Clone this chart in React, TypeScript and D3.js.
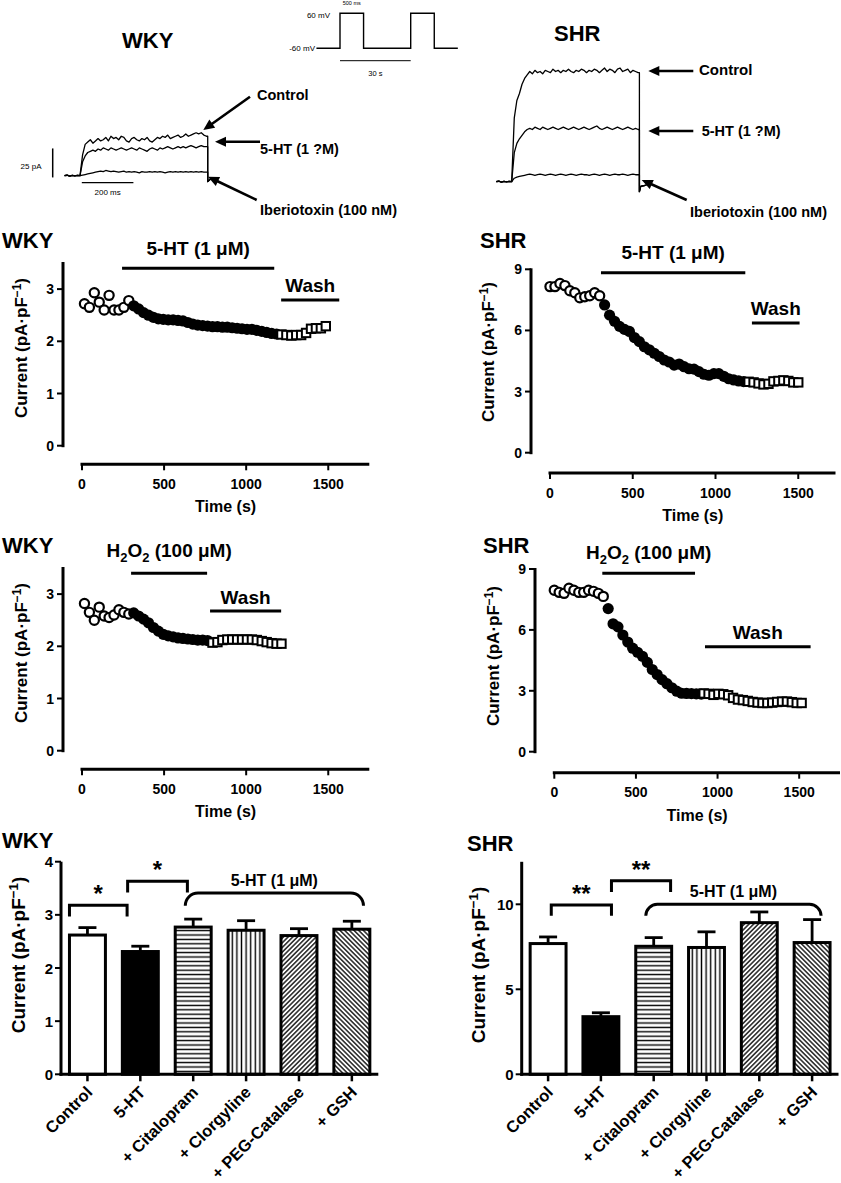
import React from 'react';
import * as d3 from 'd3';

const FONT = '"Liberation Sans", Arial, Helvetica, sans-serif';

// ---------------- Top: whole-cell current traces (pA, every 10 ms from step onset) -------------
const TRACE_DT = 10;
const preStepBaseline = [0, 0.4, -0.3, 0.3, -0.2, 0.2, 0]; // -60 .. 0 ms
const wkyTraceControl = [0, 18, 27, 29, 31, 28, 30, 32, 30, 31, 33, 30, 34, 32, 33, 31, 34, 33, 30, 29, 32, 33, 31, 30, 32, 31, 33, 30, 29, 31, 33, 32, 34, 33, 35, 32, 33, 34, 35, 33, 34, 36, 34, 35, 36, 37, 36, 37, 35, 34];
const wkyTrace5HT = [0, 12, 17, 20, 21, 22, 21, 23, 22, 24, 23, 22, 24, 23, 22, 23, 24, 23, 22, 23, 24, 23, 22, 24, 23, 22, 21, 23, 24, 23, 22, 24, 23, 24, 25, 24, 23, 24, 25, 24, 25, 24, 25, 26, 25, 24, 25, 26, 25, 25];
const wkyTraceIbtx = [0, 0.5, 1, 1.5, 2, 2.5, 3, 3.5, 4, 3.5, 4.5, 4, 3.5, 4, 3.5, 3, 3.5, 4, 3, 3.5, 3, 3.5, 3, 2.5, 3.5, 3, 3, 3.5, 3, 3.5, 3, 3.5, 3, 2.5, 3, 3.5, 3, 3.5, 3, 3.5, 3, 3.5, 3, 3.5, 3, 3.5, 3, 3.5, 3, 3];
const shrTraceControl = [0, 55, 70, 76, 84, 89, 92, 95, 93, 96, 94, 95, 93, 96, 95, 94, 97, 95, 96, 94, 96, 95, 97, 95, 94, 96, 95, 97, 96, 94, 96, 95, 97, 96, 94, 96, 98, 95, 97, 96, 94, 97, 98, 95, 96, 97, 94, 96, 95, 94];
const shrTrace5HT = [0, 25, 33, 37, 40, 43, 45, 46, 45, 47, 46, 45, 47, 46, 45, 46, 47, 46, 45, 46, 47, 46, 45, 46, 47, 46, 45, 46, 47, 46, 45, 46, 47, 48, 46, 45, 46, 47, 46, 45, 46, 47, 46, 45, 46, 47, 46, 45, 46, 45];
const shrTraceIbtx = [0, 3, 4, 4.5, 5, 5.5, 6, 6.5, 6, 5.5, 6, 6.5, 6, 5.5, 6, 6.5, 6, 5.5, 6, 6.5, 6, 5.5, 6, 6.5, 6, 5.5, 6, 6.5, 6, 6, 5.5, 6, 6.5, 6, 5.5, 6, 6.5, 6, 5.5, 6, 6.5, 6, 6, 6.5, 6, 5.5, 6, 6.5, 6, 6];
const wkyTail: [number, number][] = [[495, -5], [505, -3], [525, -2.5]];
const shrTail: [number, number][] = [[495, -8.6], [500, -4], [522, -3]];

// Voltage protocol (schematic seconds, mV)
const protocolPoints: [number, number][] = [[-10, -60], [0, -60], [0, 60], [10, 60], [10, -60], [30, -60], [30, 60], [40, 60], [40, -60], [50, -60]];

// ---------------- Time courses (pA/pF, one point every 30 s) ----------------
const SAMPLE_DT = 30;
const wkyHtBaseline = [2.72, 2.65, 2.93, 2.75, 2.60, 2.88, 2.60, 2.60, 2.65, 2.78];
const wkyHtDrug = [2.68, 2.62, 2.55, 2.50, 2.46, 2.43, 2.42, 2.41, 2.41, 2.40, 2.39, 2.36, 2.33, 2.31, 2.30, 2.29, 2.28, 2.28, 2.27, 2.27, 2.26, 2.25, 2.24, 2.23, 2.23, 2.21, 2.19, 2.17, 2.15, 2.14];
const wkyHtWash = [2.13, 2.12, 2.11, 2.12, 2.12, 2.16, 2.24, 2.25, 2.25, 2.29];
const wkyHtPeriods = { drug: [244, 1171], wash: [1213, 1567] };

const shrHtBaseline = [8.15, 8.15, 8.3, 8.2, 7.95, 7.85, 7.6, 7.65, 7.7, 7.85, 7.7];
const shrHtDrug = [7.25, 6.75, 6.45, 6.2, 6.05, 5.95, 5.65, 5.45, 5.2, 5.05, 4.88, 4.72, 4.55, 4.45, 4.3, 4.35, 4.22, 4.12, 4.1, 3.98, 3.85, 3.8, 3.88, 3.88, 3.75, 3.63, 3.57, 3.52, 3.49];
const shrHtWash = [3.48, 3.45, 3.4, 3.35, 3.38, 3.5, 3.52, 3.55, 3.52, 3.45, 3.45];
const shrHtPeriods = { drug: [308, 1180], wash: [1220, 1508] };

const wkyH2o2Baseline = [2.82, 2.65, 2.5, 2.75, 2.58, 2.55, 2.6, 2.7, 2.65, 2.62];
const wkyH2o2Drug = [2.64, 2.58, 2.52, 2.45, 2.36, 2.29, 2.23, 2.2, 2.18, 2.16, 2.15, 2.14, 2.13, 2.12, 2.12, 2.11];
const wkyH2o2Wash = [2.07, 2.08, 2.12, 2.13, 2.13, 2.13, 2.13, 2.13, 2.13, 2.12, 2.1, 2.08, 2.06, 2.05, 2.05];
const wkyH2o2Periods = { drug: [299, 762], wash: [780, 1213] };

const shrH2o2Baseline = [7.95, 7.85, 7.8, 8.05, 7.95, 7.85, 7.85, 7.95, 7.9, 7.8, 7.65];
const shrH2o2Drug = [7.05, 6.3, 6.15, 5.75, 5.4, 5.1, 4.9, 4.7, 4.4, 4.05, 3.8, 3.55, 3.35, 3.15, 2.98, 2.88, 2.87, 2.86, 2.85, 2.84];
const shrH2o2Wash = [2.87, 2.85, 2.8, 2.85, 2.83, 2.78, 2.65, 2.57, 2.54, 2.5, 2.45, 2.42, 2.4, 2.4, 2.42, 2.45, 2.47, 2.47, 2.44, 2.4, 2.4];
const shrH2o2Periods = { drug: [294, 862], wash: [923, 1570] };

const timeTicks = [0, 500, 1000, 1500];
const wkyYTicks = [0, 1, 2, 3];
const shrYTicks = [0, 3, 6, 9];

// ---------------- Bar charts ----------------
const barCategories = ['Control', '5-HT', '+ Citalopram', '+ Clorgyline', '+ PEG-Catalase', '+ GSH'];
const wkyMeans = [2.62, 2.31, 2.77, 2.71, 2.61, 2.73];
const wkyErrs = [0.14, 0.10, 0.15, 0.18, 0.13, 0.15];
const shrMeans = [7.69, 3.39, 7.53, 7.46, 8.92, 7.75];
const shrErrs = [0.39, 0.23, 0.51, 0.92, 0.63, 1.35];
const wkyBarTicks = [0, 1, 2, 3, 4];
const shrBarTicks = [0, 5, 10];
// significance brackets: positions in category-index units, heights in pA/pF
const wkyBrackets = [
  { from: -0.34, to: 0.75, top: 3.18, leg: 2.97, mark: '*' },
  { from: 0.76, to: 1.89, top: 3.63, leg: 3.42, mark: '*' },
];
const wkyBrace = { from: 1.85, to: 5.22, top: 3.41, leg: 3.17, label: '5-HT (1 μM)' };
const shrBrackets = [
  { from: 0.06, to: 1.2, top: 9.96, leg: 9.32, mark: '**' },
  { from: 1.2, to: 2.32, top: 11.38, leg: 10.72, mark: '**' },
];
const shrBrace = { from: 1.85, to: 5.17, top: 10.0, leg: 9.32, label: '5-HT (1 μM)' };

const barFills = ['white', 'black', 'url(#pat-h)', 'url(#pat-v)', 'url(#pat-d1)', 'url(#pat-d2)'];

// ---------------- Components ----------------
function Arrow({ x1, y1, x2, y2 }: { x1: number; y1: number; x2: number; y2: number }) {
  const dx = x2 - x1, dy = y2 - y1, L = Math.hypot(dx, dy), ux = dx / L, uy = dy / L;
  const hl = 11, hw = 5;
  const bx = x2 - ux * hl, by = y2 - uy * hl;
  const pts = `${x2},${y2} ${bx - uy * hw},${by + ux * hw} ${bx + uy * hw},${by - ux * hw}`;
  return (
    <g>
      <line x1={x1} y1={y1} x2={bx + ux * 1} y2={by + uy * 1} stroke="black" strokeWidth={2.6} />
      <polygon points={pts} fill="black" />
    </g>
  );
}

function tracePath(values: number[], tail: [number, number][], x: any, y: any) {
  const pts: [number, number][] = [];
  preStepBaseline.forEach((v, i) => pts.push([(i - preStepBaseline.length + 1) * TRACE_DT, v]));
  values.forEach((v, i) => pts.push([i * TRACE_DT, v]));
  pts.push([495, values[values.length - 1]]);
  tail.forEach((p) => pts.push(p));
  const line = d3.line<[number, number]>().x((d) => x(d[0])).y((d) => y(d[1]));
  return line(pts) as string;
}

function TopTraces() {
  const xW = d3.scaleLinear().domain([0, 500]).range([80, 209]);
  const yW = d3.scaleLinear().domain([0, 25]).range([175.7, 146.7]);
  const xS = d3.scaleLinear().domain([0, 500]).range([511.7, 640.7]);
  const yS = d3.scaleLinear().domain([0, 25]).range([181.7, 152.7]);
  const px = d3.scaleLinear().domain([0, 30]).range([340, 410.7]);
  const py = d3.scaleLinear().domain([-60, 60]).range([48.3, 13.3]);
  const proto = d3.line<[number, number]>().x((d) => px(d[0])).y((d) => py(d[1]))(protocolPoints) as string;
  const trStyle = { fill: 'none', stroke: 'black', strokeWidth: 1.3, strokeLinejoin: 'round' as const };
  return (
    <g>
      <text x={122} y={48} fontSize={22} fontWeight="bold">WKY</text>
      <text x={554} y={41} fontSize={22} fontWeight="bold">SHR</text>
      {/* protocol */}
      <path d={proto} fill="none" stroke="black" strokeWidth={1.4} />
      <text x={px(5)} y={5} fontSize={5.5} textAnchor="middle">500 ms</text>
      <text x={330} y={18} fontSize={8} textAnchor="end">60 mV</text>
      <text x={315} y={51} fontSize={8} textAnchor="end">-60 mV</text>
      <line x1={px(0)} x2={px(30)} y1={60.7} y2={60.7} stroke="black" strokeWidth={1} />
      <text x={px(15)} y={76} fontSize={7.5} textAnchor="middle">30 s</text>
      {/* WKY traces */}
      <path d={tracePath(wkyTraceControl, wkyTail, xW, yW)} {...trStyle} />
      <path d={tracePath(wkyTrace5HT, wkyTail, xW, yW)} {...trStyle} />
      <path d={tracePath(wkyTraceIbtx, wkyTail, xW, yW)} {...trStyle} />
      <line x1={52.7} x2={52.7} y1={yW(23.5)} y2={yW(-1.5)} stroke="black" strokeWidth={1.5} />
      <text x={41.5} y={168.5} fontSize={8} textAnchor="end">25 pA</text>
      <line x1={xW(7)} x2={xW(207)} y1={yW(-6)} y2={yW(-6)} stroke="black" strokeWidth={1.2} />
      <text x={xW(107)} y={194.5} fontSize={8} textAnchor="middle">200 ms</text>
      <Arrow x1={250} y1={96.7} x2={203.3} y2={130} />
      <Arrow x1={260} y1={141.7} x2={215} y2={141.7} />
      <Arrow x1={256.7} y1={200} x2={208} y2={176.7} />
      <text x={257} y={100} fontSize={14.5} fontWeight="bold">Control</text>
      <text x={260} y={153.5} fontSize={14.5} fontWeight="bold">5-HT (1 ?M)</text>
      <text x={260} y={215} fontSize={14.5} fontWeight="bold">Iberiotoxin (100 nM)</text>
      {/* SHR traces */}
      <path d={tracePath(shrTraceControl, shrTail, xS, yS)} {...trStyle} />
      <path d={tracePath(shrTrace5HT, shrTail, xS, yS)} {...trStyle} />
      <path d={tracePath(shrTraceIbtx, shrTail, xS, yS)} {...trStyle} />
      <Arrow x1={693.3} y1={71} x2={648.3} y2={71} />
      <Arrow x1={693.3} y1={131} x2={648.3} y2={131} />
      <Arrow x1={686.7} y1={200} x2={641.7} y2={180} />
      <text x={699} y={75} fontSize={15} fontWeight="bold">Control</text>
      <text x={701.7} y={136} fontSize={14.5} fontWeight="bold">5-HT (1 ?M)</text>
      <text x={690} y={217} fontSize={14.5} fontWeight="bold">Iberiotoxin (100 nM)</text>
    </g>
  );
}

function YLabel({ x, y, size }: { x: number; y: number; size: number }) {
  return (
    <text transform={`translate(${x},${y}) rotate(-90)`} textAnchor="middle" fontSize={size} fontWeight="bold">
      Current (pA·pF<tspan dy={-size * 0.38} fontSize={size * 0.7}>−1</tspan><tspan dy={size * 0.38}>)</tspan>
    </text>
  );
}

type Series = { t0: number; values: number[] };

function TimeCourse({ L, base, drug, wash, periods, drugLabel, yTicks }: any) {
  const x = d3.scaleLinear().domain([0, L.xMax]).range(L.xRange);
  const y = d3.scaleLinear().domain([0, L.yMax]).range(L.yRange);
  const pts = (s: Series) => s.values.map((v, i) => ({ t: s.t0 + i * SAMPLE_DT, v }));
  return (
    <g>
      <text x={L.titleX} y={L.titleY} fontSize={22} fontWeight="bold">{L.title}</text>
      {/* y axis */}
      <line x1={L.yAxisX} x2={L.yAxisX} y1={y(L.yMax) - 1} y2={y(0) + 1.5} stroke="black" strokeWidth={3} />
      {yTicks.map((t: number) => (
        <g key={t}>
          <line x1={L.yAxisX - 6} x2={L.yAxisX} y1={y(t)} y2={y(t)} stroke="black" strokeWidth={2} />
          <text x={L.yAxisX - 9} y={y(t) + 5} textAnchor="end" fontSize={14} fontWeight="bold">{t}</text>
        </g>
      ))}
      <YLabel x={L.yLabelX} y={L.yLabelY} size={17} />
      {/* x axis */}
      <line x1={x(0) - 1.5} x2={x(L.xMax)} y1={L.axisY} y2={L.axisY} stroke="black" strokeWidth={3} />
      {timeTicks.map((t) => (
        <g key={t}>
          <line x1={x(t)} x2={x(t)} y1={L.axisY} y2={L.axisY + 6} stroke="black" strokeWidth={2} />
          <text x={x(t)} y={L.axisY + 24.5} textAnchor="middle" fontSize={14} fontWeight="bold">{t}</text>
        </g>
      ))}
      <text x={(L.xRange[0] + L.xRange[1]) / 2} y={L.axisY + 48} textAnchor="middle" fontSize={16} fontWeight="bold">Time (s)</text>
      {/* treatment bars */}
      <line x1={x(periods.drug[0])} x2={x(periods.drug[1])} y1={L.drugLineY} y2={L.drugLineY} stroke="black" strokeWidth={3} />
      <text x={(x(periods.drug[0]) + x(periods.drug[1])) / 2} y={L.drugTextY} textAnchor="middle" fontSize={19} fontWeight="bold">{drugLabel}</text>
      <line x1={x(periods.wash[0])} x2={x(periods.wash[1])} y1={L.washLineY} y2={L.washLineY} stroke="black" strokeWidth={3} />
      <text x={(x(periods.wash[0]) + x(periods.wash[1])) / 2} y={L.washTextY} textAnchor="middle" fontSize={19} fontWeight="bold">Wash</text>
      {/* data */}
      {pts(base).map((d, i) => (
        <circle key={'b' + i} cx={x(d.t)} cy={y(d.v)} r={4.6} fill="white" stroke="black" strokeWidth={2.2} />
      ))}
      {pts(drug).map((d, i) => (
        <circle key={'d' + i} cx={x(d.t)} cy={y(d.v)} r={5.6} fill="black" />
      ))}
      {pts(wash).map((d, i) => (
        <rect key={'w' + i} x={x(d.t) - 4.2} y={y(d.v) - 4.2} width={8.4} height={8.4} fill="white" stroke="black" strokeWidth={2} />
      ))}
    </g>
  );
}

function BarChart({ L, means, errs, brackets, brace, yTicks }: any) {
  const x = d3.scaleBand().domain(barCategories).range(L.xRange).paddingInner(0.32).paddingOuter(0.16);
  const y = d3.scaleLinear().domain([0, L.yMax]).range([L.y0, L.yTop]);
  const bw = x.bandwidth();
  const c0 = (x(barCategories[0]) as number) + bw / 2;
  const xi = (i: number) => c0 + i * x.step();
  const r = y(brace.leg) - y(brace.top);
  const bx1 = xi(brace.from), bx2 = xi(brace.to);
  const bracePath = `M${bx1},${y(brace.leg)} A${r},${r} 0 0 1 ${bx1 + r},${y(brace.top)} L${bx2 - r},${y(brace.top)} A${r},${r} 0 0 1 ${bx2},${y(brace.leg)}`;
  return (
    <g>
      <text x={L.titleX} y={L.titleY} fontSize={22} fontWeight="bold">{L.title}</text>
      {barCategories.map((c, i) => {
        const cx = (x(c) as number) + bw / 2;
        return (
          <g key={c}>
            <line x1={cx} x2={cx} y1={y(means[i])} y2={y(means[i] + errs[i])} stroke="black" strokeWidth={2.8} />
            <line x1={cx - 9} x2={cx + 9} y1={y(means[i] + errs[i])} y2={y(means[i] + errs[i])} stroke="black" strokeWidth={2.8} />
            <rect x={x(c)} y={y(means[i])} width={bw} height={y(0) - y(means[i])} fill={barFills[i]} stroke="black" strokeWidth={3} />
            <line x1={cx} x2={cx} y1={L.y0} y2={L.y0 + 7} stroke="black" strokeWidth={2.5} />
            <text transform={`translate(${cx + 6},${L.y0 + 19}) rotate(-45)`} textAnchor="end" fontSize={16.5} fontWeight="bold">{c}</text>
          </g>
        );
      })}
      {/* axes */}
      <line x1={L.xRange[0]} x2={L.xRange[0]} y1={y(L.yMax)} y2={L.y0 + 1.5} stroke="black" strokeWidth={3} />
      <line x1={L.xRange[0] - 1.5} x2={L.xRange[1]} y1={L.y0} y2={L.y0} stroke="black" strokeWidth={3} />
      {yTicks.map((t: number) => (
        <g key={t}>
          <line x1={L.xRange[0] - 6} x2={L.xRange[0]} y1={y(t)} y2={y(t)} stroke="black" strokeWidth={2} />
          <text x={L.xRange[0] - 8} y={y(t) + 5.5} textAnchor="end" fontSize={15} fontWeight="bold">{t}</text>
        </g>
      ))}
      <YLabel x={L.yLabelX} y={L.yLabelY} size={19} />
      {/* significance */}
      {brackets.map((b: any, i: number) => (
        <g key={i}>
          <path d={`M${xi(b.from)},${y(b.leg)} L${xi(b.from)},${y(b.top)} L${xi(b.to)},${y(b.top)} L${xi(b.to)},${y(b.leg)}`} fill="none" stroke="black" strokeWidth={3} />
          <text x={(xi(b.from) + xi(b.to)) / 2} y={y(b.top) - 3} textAnchor="middle" fontSize={24} fontWeight="bold">{b.mark}</text>
        </g>
      ))}
      <path d={bracePath} fill="none" stroke="black" strokeWidth={3} />
      <text x={(bx1 + bx2) / 2} y={y(brace.top) - L.braceTextGap} textAnchor="middle" fontSize={16} fontWeight="bold">{brace.label}</text>
    </g>
  );
}

const h2o2Label = (
  <>
    H<tspan dy={5} fontSize={13}>2</tspan><tspan dy={-5}>O</tspan><tspan dy={5} fontSize={13}>2</tspan><tspan dy={-5}> (100 μM)</tspan>
  </>
);

export default function App() {
  const A1 = { title: 'WKY', titleX: 2, titleY: 248, xRange: [82, 369.3], xMax: 1750, axisY: 464.3, yAxisX: 63, yMax: 3.5, yRange: [445.7, 263], yLabelX: 27, yLabelY: 348, drugLineY: 268.3, drugTextY: 255, washLineY: 300, washTextY: 292 };
  const A2 = { title: 'SHR', titleX: 480, titleY: 248, xRange: [550, 835.5], xMax: 1725, axisY: 473, yAxisX: 531, yMax: 9, yRange: [452.7, 269.3], yLabelX: 494, yLabelY: 352, drugLineY: 272.7, drugTextY: 259, washLineY: 323, washTextY: 315 };
  const B1 = { title: 'WKY', titleX: 2, titleY: 553, xRange: [82, 369.3], xMax: 1750, axisY: 769.3, yAxisX: 63, yMax: 3.5, yRange: [750.7, 568], yLabelX: 27, yLabelY: 653, drugLineY: 573.3, drugTextY: 557, washLineY: 611, washTextY: 603.7 };
  const B2 = { title: 'SHR', titleX: 483, titleY: 553, xRange: [554.3, 840], xMax: 1750, axisY: 772.7, yAxisX: 535, yMax: 9, yRange: [751.7, 569], yLabelX: 499, yLabelY: 656, drugLineY: 573.3, drugTextY: 559, washLineY: 646.7, washTextY: 638.7 };
  const C1 = { title: 'WKY', titleX: 2, titleY: 848, xRange: [61, 378.3], yMax: 4, y0: 1074.3, yTop: 861.7, yLabelX: 25, yLabelY: 955, braceTextGap: 7 };
  const C2 = { title: 'SHR', titleX: 467, titleY: 851, xRange: [521.7, 838.5], yMax: 12.5, y0: 1074.3, yTop: 861.8, yLabelX: 485, yLabelY: 965, braceTextGap: 7 };
  return (
    <svg width={841} height={1183} style={{ position: 'absolute', left: 0, top: 0, display: 'block' }} fontFamily={FONT}>
      <rect width={841} height={1183} fill="white" />
      <defs>
        <pattern id="pat-h" patternUnits="userSpaceOnUse" width={8} height={4.4}>
          <rect width={8} height={4.4} fill="white" />
          <line x1={0} x2={8} y1={2.2} y2={2.2} stroke="black" strokeWidth={1.4} />
        </pattern>
        <pattern id="pat-v" patternUnits="userSpaceOnUse" width={4.6} height={8}>
          <rect width={4.6} height={8} fill="white" />
          <line x1={2.3} x2={2.3} y1={0} y2={8} stroke="black" strokeWidth={1.4} />
        </pattern>
        <pattern id="pat-d1" patternUnits="userSpaceOnUse" width={3.3} height={8} patternTransform="rotate(45)">
          <rect width={3.3} height={8} fill="white" />
          <line x1={1.65} x2={1.65} y1={0} y2={8} stroke="black" strokeWidth={1.3} />
        </pattern>
        <pattern id="pat-d2" patternUnits="userSpaceOnUse" width={3.3} height={8} patternTransform="rotate(-45)">
          <rect width={3.3} height={8} fill="white" />
          <line x1={1.65} x2={1.65} y1={0} y2={8} stroke="black" strokeWidth={1.3} />
        </pattern>
      </defs>
      <TopTraces />
      <TimeCourse L={A1} yTicks={wkyYTicks} base={{ t0: 15, values: wkyHtBaseline }} drug={{ t0: 315, values: wkyHtDrug }} wash={{ t0: 1215, values: wkyHtWash }} periods={wkyHtPeriods} drugLabel="5-HT (1 μM)" />
      <TimeCourse L={A2} yTicks={shrYTicks} base={{ t0: 0, values: shrHtBaseline }} drug={{ t0: 330, values: shrHtDrug }} wash={{ t0: 1200, values: shrHtWash }} periods={shrHtPeriods} drugLabel="5-HT (1 μM)" />
      <TimeCourse L={B1} yTicks={wkyYTicks} base={{ t0: 15, values: wkyH2o2Baseline }} drug={{ t0: 315, values: wkyH2o2Drug }} wash={{ t0: 795, values: wkyH2o2Wash }} periods={wkyH2o2Periods} drugLabel={h2o2Label} />
      <TimeCourse L={B2} yTicks={shrYTicks} base={{ t0: 0, values: shrH2o2Baseline }} drug={{ t0: 330, values: shrH2o2Drug }} wash={{ t0: 915, values: shrH2o2Wash }} periods={shrH2o2Periods} drugLabel={h2o2Label} />
      <BarChart L={C1} means={wkyMeans} errs={wkyErrs} brackets={wkyBrackets} brace={wkyBrace} yTicks={wkyBarTicks} />
      <BarChart L={C2} means={shrMeans} errs={shrErrs} brackets={shrBrackets} brace={shrBrace} yTicks={shrBarTicks} />
    </svg>
  );
}
